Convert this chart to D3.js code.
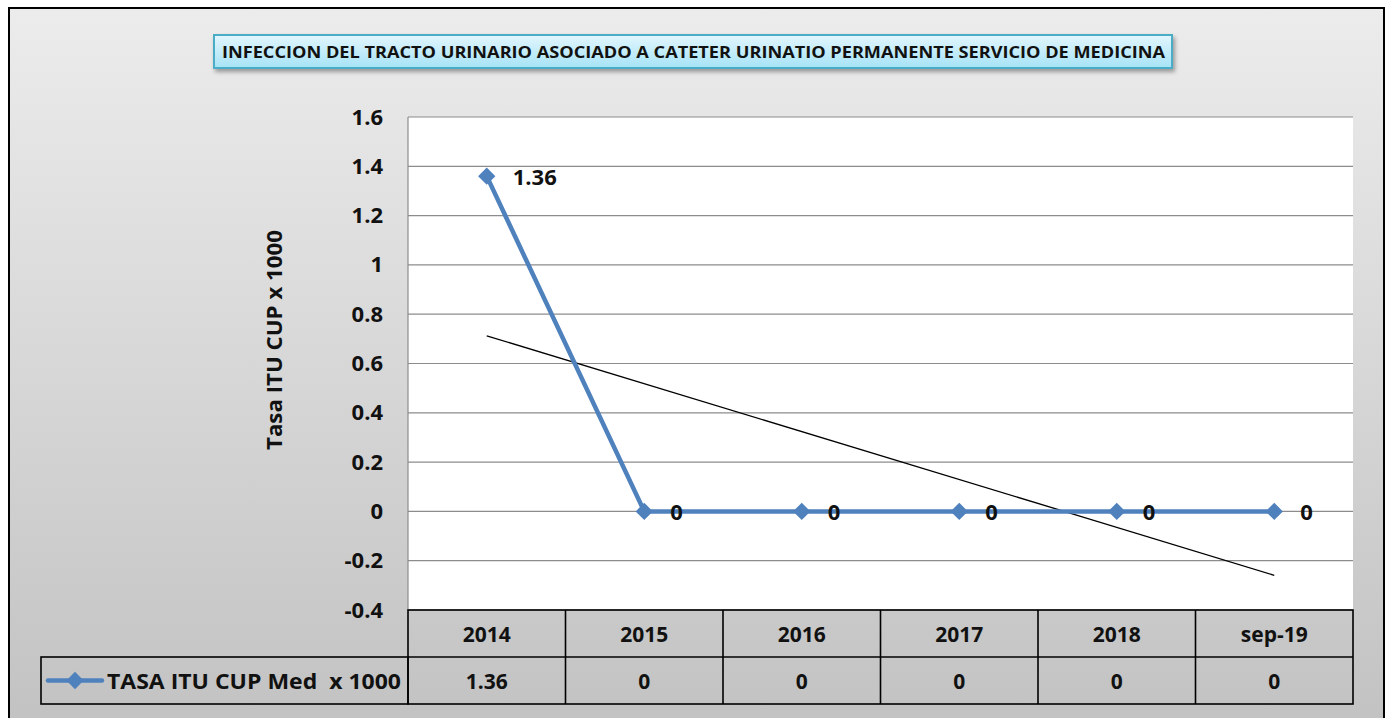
<!DOCTYPE html>
<html>
<head>
<meta charset="utf-8">
<script src="https://cdn.jsdelivr.net/npm/d3@7"></script>
<style>
  body { margin: 0; background: #fff; }
  text { font-family: "Open Sans", "DejaVu Sans", sans-serif; font-weight: bold; fill: #111; }
</style>
</head>
<body>
<svg id="chart" width="1388" height="718"></svg>
<script>

// data
var categories = ['2014', '2015', '2016', '2017', '2018', 'sep-19']
var values = [1.36, 0, 0, 0, 0, 0]
var yTicks = [1.6, 1.4, 1.2, 1, 0.8, 0.6, 0.4, 0.2, 0, -0.2, -0.4]
var seriesName = 'TASA ITU CUP Med  x 1000'
var titleText = 'INFECCION DEL TRACTO URINARIO ASOCIADO A CATETER URINATIO PERMANENTE SERVICIO DE MEDICINA'
var yLabel = 'Tasa ITU CUP x 1000'

var svg = d3.select('#chart')
var defs = svg.append('defs')

var bg = defs.append('linearGradient').attr('id', 'bg').attr('x1', 0).attr('y1', 0).attr('x2', 0).attr('y2', 1)
bg.append('stop').attr('offset', '0%').attr('stop-color', '#ececec')
bg.append('stop').attr('offset', '100%').attr('stop-color', '#c2c2c2')

var tg = defs.append('linearGradient').attr('id', 'tg').attr('x1', 0).attr('y1', 0).attr('x2', 0).attr('y2', 1)
tg.append('stop').attr('offset', '0%').attr('stop-color', '#e2f6fd')
tg.append('stop').attr('offset', '100%').attr('stop-color', '#a6e3f7')

var sh = defs.append('filter').attr('id', 'sh').attr('x', '-5%').attr('y', '-30%').attr('width', '110%').attr('height', '170%')
sh.append('feDropShadow').attr('dx', 2).attr('dy', 3).attr('stdDeviation', 2).attr('flood-color', '#000').attr('flood-opacity', 0.35)

// outer chart area
svg.append('rect')
	.attr('x', 9).attr('y', 8).attr('width', 1375).attr('height', 720)
	.attr('fill', 'url(#bg)')
	.attr('stroke', '#000').attr('stroke-width', 2)

var pLeft = 408, pRight = 1353, pTop = 117, pBottom = 610

var x = d3.scaleBand().domain(categories).range([pLeft, pRight])
var y = d3.scaleLinear().domain([-0.4, 1.6]).range([pBottom, pTop])

// plot area
svg.append('rect')
	.attr('x', pLeft).attr('y', pTop).attr('width', pRight - pLeft).attr('height', pBottom - pTop)
	.attr('fill', '#fff')

svg.append('g')
	.selectAll('line')
	.data(yTicks)
	.enter()
	.append('line')
	.attr('x1', pLeft).attr('x2', pRight)
	.attr('y1', function(d) { return y(d); })
	.attr('y2', function(d) { return y(d); })
	.attr('stroke', '#8c8c8c').attr('stroke-width', 1.2)

svg.append('line')
	.attr('x1', pLeft).attr('x2', pLeft).attr('y1', pTop).attr('y2', pBottom)
	.attr('stroke', '#8c8c8c').attr('stroke-width', 1.2)

// y axis labels (plain hyphen minus like the original)
var yAxis = d3.axisLeft(y).tickValues(yTicks).tickSize(0).tickPadding(25)
	.tickFormat(function(d) { return String(+d.toFixed(1)); })
var ga = svg.append('g').attr('transform', 'translate(' + pLeft + ',0)').call(yAxis)
ga.select('.domain').remove()
ga.selectAll('text').attr('font-size', 22).attr('font-family', '"Open Sans", sans-serif').attr('font-weight', 'bold').attr('fill', '#111')

svg.append('text')
	.attr('transform', 'translate(282,340) rotate(-90)')
	.attr('text-anchor', 'middle')
	.attr('font-size', 21)
	.attr('textLength', 220).attr('lengthAdjust', 'spacingAndGlyphs')
	.text(yLabel)

// trend line (least squares over category index)
var n = values.length
var mx = d3.mean(d3.range(1, n + 1)), my = d3.mean(values)
var sxy = d3.sum(values, function(v, i) { return (i + 1 - mx) * (v - my); })
var sxx = d3.sum(d3.range(1, n + 1), function(k) { return (k - mx) * (k - mx); })
var slope = sxy / sxx
var icpt = my - slope * mx
var cx = function(c) { return x(c) + x.bandwidth() / 2; }

svg.append('line')
	.attr('x1', cx(categories[0])).attr('y1', y(icpt + slope * 1))
	.attr('x2', cx(categories[n - 1])).attr('y2', y(icpt + slope * n))
	.attr('stroke', '#000').attr('stroke-width', 1.3)

// series line
var line = d3.line()
	.x(function(d, i) { return cx(categories[i]); })
	.y(function(d) { return y(d); })

svg.append('path')
	.datum(values)
	.attr('d', line)
	.attr('fill', 'none')
	.attr('stroke', '#4f81bd').attr('stroke-width', 4.5)
	.attr('stroke-linejoin', 'round')

var diamond = d3.symbol().type(d3.symbolDiamond2).size(190)

svg.append('g')
	.selectAll('path')
	.data(values)
	.enter()
	.append('path')
	.attr('d', diamond)
	.attr('transform', function(d, i) { return 'translate(' + cx(categories[i]) + ',' + y(d) + ')'; })
	.attr('fill', '#4f81bd')

svg.append('g')
	.selectAll('text')
	.data(values)
	.enter()
	.append('text')
	.attr('x', function(d, i) { return cx(categories[i]) + 26; })
	.attr('y', function(d) { return y(d) + 9; })
	.attr('font-size', 22)
	.text(function(d) { return d; })

// data table
var rowH = 47
var legendLeft = 41
var tbl = svg.append('g').attr('stroke', '#000').attr('stroke-width', 1.6)

tbl.append('rect').attr('x', pLeft).attr('y', pBottom).attr('width', pRight - pLeft).attr('height', rowH * 2).attr('fill', 'none')
tbl.append('rect').attr('x', legendLeft).attr('y', pBottom + rowH).attr('width', pLeft - legendLeft).attr('height', rowH).attr('fill', 'none')
tbl.append('line').attr('x1', pLeft).attr('x2', pRight).attr('y1', pBottom + rowH).attr('y2', pBottom + rowH)
tbl.selectAll('.vl')
	.data(categories.slice(1))
	.enter()
	.append('line')
	.attr('x1', function(d) { return x(d); })
	.attr('x2', function(d) { return x(d); })
	.attr('y1', pBottom).attr('y2', pBottom + rowH * 2)

svg.append('g')
	.selectAll('text')
	.data(categories)
	.enter()
	.append('text')
	.attr('x', function(d) { return cx(d); })
	.attr('y', pBottom + rowH / 2 + 8)
	.attr('text-anchor', 'middle')
	.attr('font-size', 21)
	.text(function(d) { return d; })

svg.append('g')
	.selectAll('text')
	.data(values)
	.enter()
	.append('text')
	.attr('x', function(d, i) { return cx(categories[i]); })
	.attr('y', pBottom + rowH * 1.5 + 8)
	.attr('text-anchor', 'middle')
	.attr('font-size', 21)
	.text(function(d) { return d; })

// legend key inside the table
var ly = pBottom + rowH * 1.5
svg.append('line').attr('x1', 48).attr('x2', 102).attr('y1', ly).attr('y2', ly)
	.attr('stroke', '#4f81bd').attr('stroke-width', 4.5).attr('stroke-linecap', 'round')
svg.append('path').attr('d', diamond).attr('transform', 'translate(75,' + ly + ')').attr('fill', '#4f81bd')
svg.append('text')
	.attr('x', 107).attr('y', ly + 8)
	.attr('font-size', 21)
	.attr('textLength', 294).attr('lengthAdjust', 'spacingAndGlyphs')
	.style('white-space', 'pre')
	.text(seriesName)

// title box
svg.append('rect')
	.attr('x', 214).attr('y', 35).attr('width', 958).attr('height', 33)
	.attr('fill', 'url(#tg)')
	.attr('stroke', '#4bacc6').attr('stroke-width', 2)
	.attr('filter', 'url(#sh)')

svg.append('text')
	.attr('x', 222).attr('y', 58)
	.attr('font-size', 16)
	.attr('textLength', 943).attr('lengthAdjust', 'spacingAndGlyphs')
	.text(titleText)

</script>
</body>
</html>
